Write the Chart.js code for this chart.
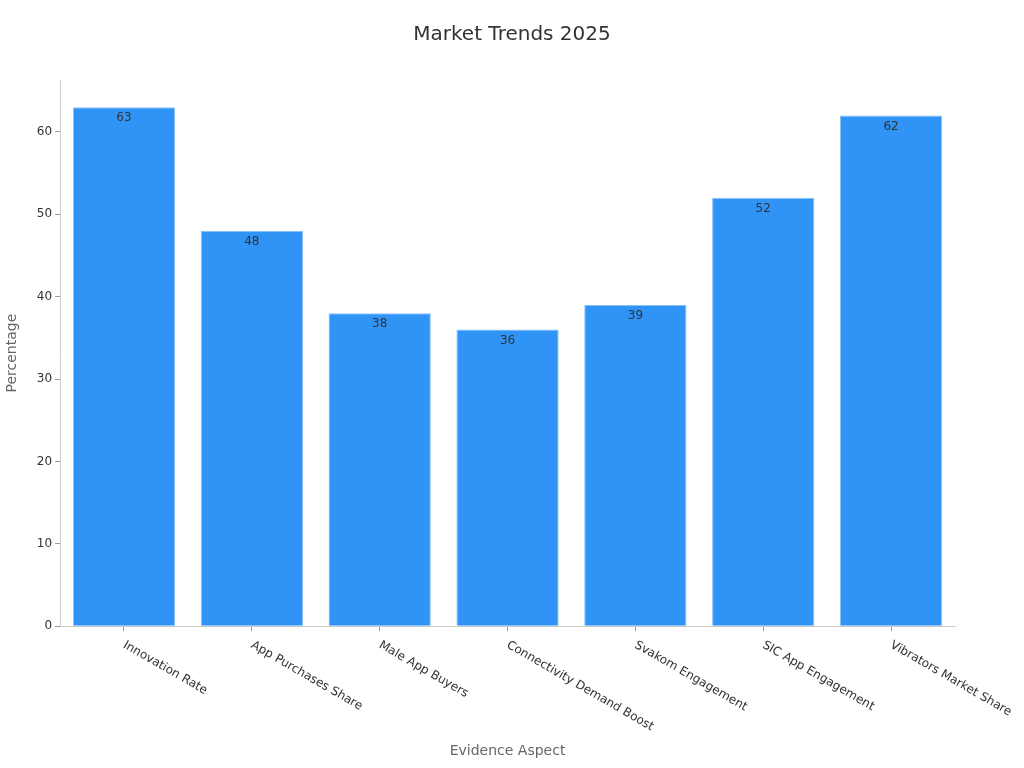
<!DOCTYPE html>
<html>
<head>
    <meta charset="utf-8">
    <title>Market Trends 2025</title>
    <script src="https://cdn.jsdelivr.net/npm/chart.js@4.4.1/dist/chart.umd.min.js"></script>
    <style>
        body { margin: 0; background: #fff; }
    </style>
</head>
<body>
    <canvas id="chart" width="1024" height="768"></canvas>

    <script>
        const categories = ['Innovation Rate', 'App Purchases Share', 'Male App Buyers',
            'Connectivity Demand Boost', 'Svakom Engagement', 'SIC App Engagement', 'Vibrators Market Share'];
        const values = [63, 48, 38, 36, 39, 52, 62];
        const yTicks = [0, 10, 20, 30, 40, 50, 60];

        const FONT = '"DejaVu Sans", sans-serif';

        // value printed just inside the top of each bar
        const valueLabels = {
            id: 'valueLabels',
            afterDatasetsDraw(chart) {
                const ctx = chart.ctx;
                const meta = chart.getDatasetMeta(0);
                ctx.save();
                ctx.font = '12px ' + FONT;
                ctx.fillStyle = '#333';
                ctx.textAlign = 'center';
                ctx.textBaseline = 'middle';
                meta.data.forEach((bar, i) => {
                    ctx.fillText(values[i], bar.x, bar.y + 11);
                });
                ctx.restore();
            }
        };

        // x labels slanted down to the right, starting at the tick
        const slantLabels = {
            id: 'slantLabels',
            afterDraw(chart) {
                const ctx = chart.ctx;
                const x = chart.scales.x;
                ctx.save();
                ctx.font = '12px ' + FONT;
                ctx.fillStyle = '#333';
                ctx.textAlign = 'left';
                ctx.textBaseline = 'middle';
                categories.forEach((c, i) => {
                    const px = x.getPixelForValue(i);
                    ctx.save();
                    ctx.translate(px, x.top + 18);
                    ctx.rotate(Math.PI / 6);
                    ctx.fillText(c, 0, 0);
                    ctx.restore();
                });
                ctx.restore();
            }
        };

        const ctx = document.getElementById('chart').getContext('2d');
        const myChart = new Chart(ctx, {
            type: 'bar',
            data: {
                labels: categories,
                datasets: [{
                    data: values,
                    backgroundColor: '#3094f7',
                    borderColor: '#8cc2f8',
                    borderWidth: 1,
                    categoryPercentage: 0.8,
                    barPercentage: 1
                }]
            },
            options: {
                responsive: false,
                animation: false,
                layout: { padding: { top: 0, right: 0, bottom: 5, left: 0 } },
                plugins: {
                    legend: { display: false },
                    tooltip: { enabled: false },
                    title: {
                        display: true,
                        text: 'Market Trends 2025',
                        color: '#333',
                        font: { family: FONT, size: 20, weight: 'normal' },
                        padding: { top: 23, bottom: 33 }
                    }
                },
                scales: {
                    x: {
                        grid: { display: true, drawOnChartArea: false, offset: false, tickLength: 5, tickColor: '#999' },
                        border: { color: '#ccc' },
                        ticks: { display: false },
                        title: {
                            display: true,
                            text: 'Evidence Aspect',
                            color: '#666',
                            font: { family: FONT, size: 14 },
                            padding: { top: 112, bottom: 3 }
                        }
                    },
                    y: {
                        min: 0,
                        max: 66.3,
                        afterBuildTicks(scale) {
                            scale.ticks = yTicks.map(v => ({ value: v }));
                        },
                        grid: { display: true, drawOnChartArea: false, tickLength: 5, tickColor: '#999' },
                        border: { color: '#ccc' },
                        ticks: {
                            color: '#333',
                            padding: 3,
                            font: { family: FONT, size: 12 }
                        },
                        title: {
                            display: true,
                            text: 'Percentage',
                            color: '#666',
                            font: { family: FONT, size: 14 },
                            padding: { top: 4, bottom: 13 }
                        }
                    },
                    // empty strip on the right so the plot ends where the reference does
                    gap: {
                        position: 'right',
                        display: true,
                        grid: { display: false },
                        border: { display: false },
                        ticks: { display: false },
                        afterFit(scale) {
                            scale.width = 69;
                        }
                    }
                }
            },
            plugins: [valueLabels, slantLabels]
        });
    </script>
</body>
</html>
